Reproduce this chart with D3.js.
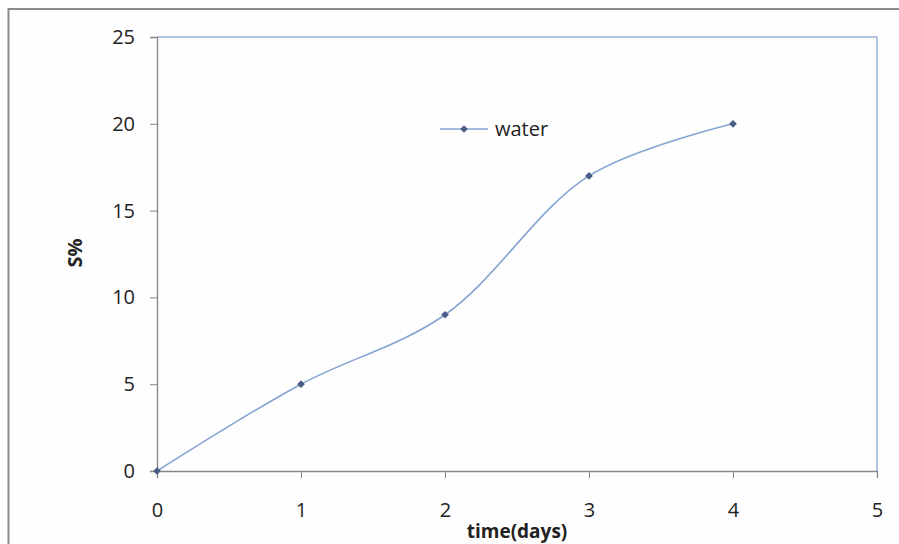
<!DOCTYPE html>
<html>
<head>
<meta charset="utf-8">
<script src="https://cdn.jsdelivr.net/npm/d3@7"></script>
<style>
  body { margin: 0; background: #fff; }
  text { font-family: "Open Sans", "Liberation Sans", sans-serif; }
</style>
</head>
<body>
<div id="chart"></div>
<script>
// data
let days = [0, 1, 2, 3, 4]
let water = [0, 5, 9, 17, 20]
let xTicks = [0, 1, 2, 3, 4, 5]
let yTicks = [0, 5, 10, 15, 20, 25]

let width = 899, height = 544
let plotLeft = 157, plotRight = 877, plotTop = 37, plotBottom = 471

let svg = d3.select("#chart").append("svg")
            .attr("width", width)
            .attr("height", height)

// outer chart frame
svg.append("rect")
   .attr("x", 8.5).attr("y", 9)
   .attr("width", 1000).attr("height", 600)
   .attr("fill", "#fefefe")
   .attr("stroke", "#8c8c8c")
   .attr("stroke-width", 2)

let x = d3.scaleLinear().domain([0, 5]).range([plotLeft, plotRight])
let y = d3.scaleLinear().domain([0, 25]).range([plotBottom, plotTop])

// plot area top and right border
svg.append("path")
   .attr("d", "M" + x(0) + "," + y(25) + "H" + x(5) + "V" + y(0))
   .attr("fill", "none")
   .attr("stroke", "#95b3d7")
   .attr("stroke-width", 1.5)

// y axis
let yAxis = svg.append("g")
               .attr("transform", "translate(" + plotLeft + ",0)")
               .call(d3.axisLeft(y).tickValues(yTicks).tickFormat(d3.format("d"))
                       .tickSize(7).tickPadding(15))
yAxis.select(".domain").attr("stroke", "#868686").attr("stroke-width", 1.3)
yAxis.selectAll(".tick line").attr("stroke", "#868686")
yAxis.selectAll(".tick text").attr("font-size", 20).attr("fill", "#222")
     .attr("font-family", "Open Sans")

// x axis
let xAxis = svg.append("g")
               .attr("transform", "translate(0," + plotBottom + ")")
               .call(d3.axisBottom(x).tickValues(xTicks).tickFormat(d3.format("d"))
                       .tickSize(7).tickPadding(25))
xAxis.select(".domain").attr("stroke", "#868686").attr("stroke-width", 1.3)
xAxis.selectAll(".tick line").attr("stroke", "#868686")
xAxis.selectAll(".tick text").attr("font-size", 20).attr("fill", "#222")
     .attr("font-family", "Open Sans")

// axis titles
svg.append("text")
   .attr("transform", "translate(82,253) rotate(-90)")
   .attr("text-anchor", "middle")
   .attr("font-size", 20)
   .attr("font-weight", "bold")
   .attr("fill", "#222")
   .text("S%")

svg.append("text")
   .attr("x", 517).attr("y", 538)
   .attr("text-anchor", "middle")
   .attr("font-size", 19)
   .attr("font-weight", "bold")
   .attr("fill", "#222")
   .text("time(days)")

// smoothed series line
let pts = days.map((d, i) => [d, water[i]])
let line = d3.line()
             .x(d => x(d[0]))
             .y(d => y(d[1]))
             .curve(d3.curveCatmullRom.alpha(0.5))

svg.append("path")
   .datum(pts)
   .attr("d", line)
   .attr("fill", "none")
   .attr("stroke", "#85a3d3")
   .attr("stroke-width", 1.6)

let diamond = d3.symbol().type(d3.symbolDiamond2).size(38)

svg.selectAll(".marker")
   .data(pts)
   .enter()
   .append("path")
   .attr("class", "marker")
   .attr("d", diamond)
   .attr("transform", d => "translate(" + x(d[0]) + "," + y(d[1]) + ")")
   .attr("fill", "#4a5d86")

// legend
let legend = svg.append("g").attr("transform", "translate(440,129)")
legend.append("line")
      .attr("x1", 0).attr("x2", 48)
      .attr("stroke", "#85a3d3").attr("stroke-width", 1.6)
legend.append("path")
      .attr("d", diamond)
      .attr("transform", "translate(24,0)")
      .attr("fill", "#4a5d86")
legend.append("text")
      .attr("x", 55).attr("y", 7)
      .attr("font-size", 20)
      .attr("fill", "#222")
      .text("water")
</script>
</body>
</html>
